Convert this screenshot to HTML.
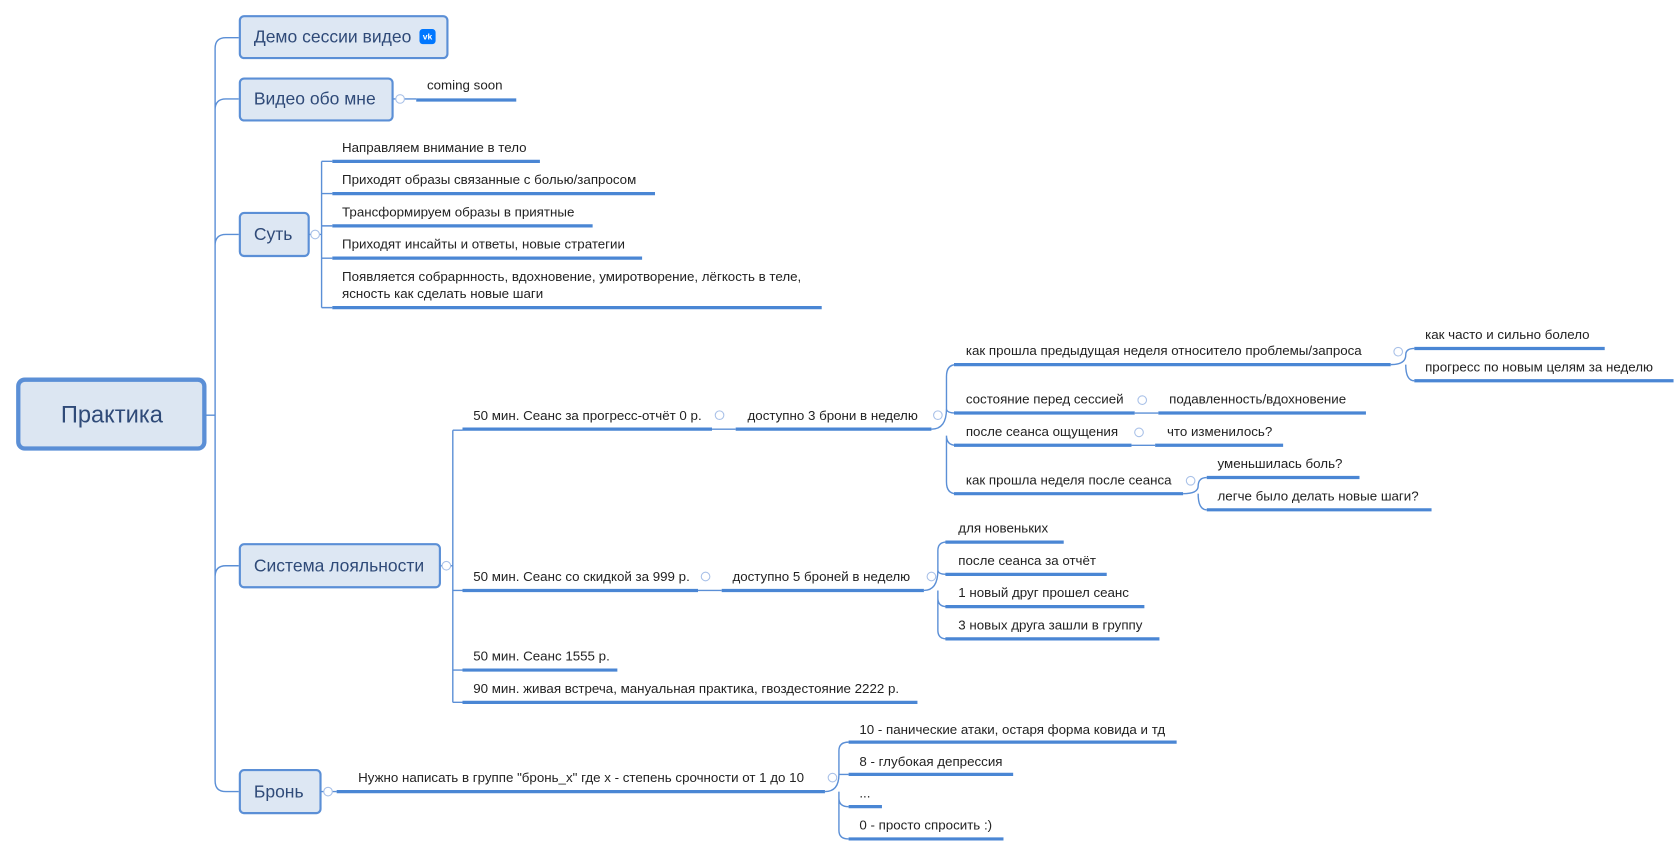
<!DOCTYPE html>
<html><head><meta charset="utf-8"><style>
html,body{margin:0;padding:0;background:#fff;width:1680px;height:854px;overflow:hidden}
svg text{font-family:"Liberation Sans","DejaVu Sans",sans-serif;fill:#222;font-size:12.4px;dominant-baseline:middle}
.t{font-size:16.3px;fill:#2f4a78}
.u{stroke:#4a86d4;stroke-width:3;fill:none}
.l{stroke:#5b8fd6;stroke-width:1.3;fill:none}
.b{fill:#dde7f3;stroke:#5b8fd6;stroke-width:2}
.c{fill:#fff;stroke:#a9c1e8;stroke-width:1}
</style></head><body>
<svg width="1680" height="854" viewBox="0 0 1562 794" xmlns="http://www.w3.org/2000/svg">
<path class="l" d="M190 386 H200 M210 35 Q200 35 200 45 V726 Q200 736 210 736 H222 M222 35 H210 M200 102 Q200 92 210 92 H222 M200 228 Q200 218 210 218 H222 M200 536 Q200 526 210 526 H222"/>
<rect x="17" y="353" width="173" height="64" rx="6" fill="#dce6f2" stroke="#5b8fd6" stroke-width="4"/>
<text x="104" y="387" class="t" style="font-size:22px" text-anchor="middle">Практика</text>

<rect class="b" x="223" y="15" width="193" height="39" rx="4"/>
<text class="t" x="236" y="35">Демо сессии видео</text>
<rect x="390" y="27" width="15" height="14" rx="3" fill="#0077ff"/>
<text x="397.5" y="34.5" text-anchor="middle" style="font-size:8px;fill:#fff;font-weight:bold">vk</text>

<rect class="b" x="223" y="73" width="142" height="39" rx="4"/>
<text class="t" x="236" y="93">Видео обо мне</text>
<path class="l" d="M365 92 H387"/><circle class="c" cx="372" cy="92" r="4"/>
<text x="397" y="80">coming soon</text><path class="u" d="M387 93 H480"/>

<rect class="b" x="223" y="198" width="64" height="40" rx="4"/>
<text class="t" x="236" y="219">Суть</text>
<path class="l" d="M287 218 H299 M299 150 V286 M299 150 H309 M299 180 H309 M299 210 H309 M299 240 H309 M299 286 H309"/>
<circle class="c" cx="293" cy="218" r="4"/>
<text x="318" y="138">Направляем внимание в тело</text><path class="u" d="M309 150 H502"/>
<text x="318" y="168">Приходят образы связанные с болью/запросом</text><path class="u" d="M309 180 H609"/>
<text x="318" y="198">Трансформируем образы в приятные</text><path class="u" d="M309 210 H551"/>
<text x="318" y="228">Приходят инсайты и ответы, новые стратегии</text><path class="u" d="M309 240 H597"/>
<text x="318" y="258">Появляется собрарнность, вдохновение, умиротворение, лёгкость в теле,</text>
<text x="318" y="274">ясность как сделать новые шаги</text><path class="u" d="M309 286 H764"/>

<rect class="b" x="223" y="506" width="186" height="40" rx="4"/>
<text class="t" x="236" y="527">Система лояльности</text>
<path class="l" d="M409 526 H421 M421 400 V653 M421 400 H430 M421 549 H430 M421 623 H430 M421 653 H430"/>
<circle class="c" cx="415" cy="526" r="4"/>
<text x="440" y="387">50 мин. Сеанс за прогресс-отчёт 0 р.</text><path class="u" d="M430 399 H662"/>
<path class="l" d="M662 399 H684"/><circle class="c" cx="669" cy="386" r="4"/>
<text x="695" y="387">доступно 3 брони в неделю</text><path class="u" d="M684 399 H866"/>
<circle class="c" cx="872" cy="386" r="4"/>
<path class="l" d="M866 399 Q880 399 880 380 V350 Q880 339 889 339 M880 380 Q880 384 889 384 M880 405 Q880 414 889 414 M880 405 V448 Q880 459 889 459"/>
<text x="898" y="327">как прошла предыдущая неделя относитело проблемы/запроса</text><path class="u" d="M887 339 H1293"/>
<circle class="c" cx="1300" cy="327" r="4"/>
<path class="l" d="M1293 339 Q1307 339 1307 330 Q1307 324 1315 324 M1307 339 Q1307 354 1315 354"/>
<text x="1325" y="312">как часто и сильно болело</text><path class="u" d="M1315 324 H1492"/>
<text x="1325" y="342">прогресс по новым целям за неделю</text><path class="u" d="M1315 354 H1556"/>
<text x="898" y="372">состояние перед сессией</text><path class="u" d="M887 384 H1055"/>
<circle class="c" cx="1062" cy="372" r="4"/><path class="l" d="M1055 384 H1077"/>
<text x="1087" y="372">подавленность/вдохновение</text><path class="u" d="M1077 384 H1270"/>
<text x="898" y="402">после сеанса ощущения</text><path class="u" d="M887 414 H1052"/>
<circle class="c" cx="1059" cy="402" r="4"/><path class="l" d="M1052 414 H1074"/>
<text x="1085" y="402">что изменилось?</text><path class="u" d="M1074 414 H1193"/>
<text x="898" y="447">как прошла неделя после сеанса</text><path class="u" d="M887 459 H1100"/>
<circle class="c" cx="1107" cy="447" r="4"/>
<path class="l" d="M1100 459 Q1114 459 1114 452 Q1114 444 1122 444 M1114 459 Q1114 474 1122 474"/>
<text x="1132" y="432">уменьшилась боль?</text><path class="u" d="M1122 444 H1264"/>
<text x="1132" y="462">легче было делать новые шаги?</text><path class="u" d="M1122 474 H1331"/>

<text x="440" y="537">50 мин. Сеанс со скидкой за 999 р.</text><path class="u" d="M430 549 H649"/>
<circle class="c" cx="656" cy="536" r="4"/><path class="l" d="M649 549 H671"/>
<text x="681" y="537">доступно 5 броней в неделю</text><path class="u" d="M671 549 H859"/>
<circle class="c" cx="866" cy="536" r="4"/>
<path class="l" d="M859 549 Q872 549 872 530 V512 Q872 504 880 504 M872 530 Q872 534 880 534 M872 549 V586 Q872 594 880 594 M872 556 Q872 564 880 564"/>
<text x="891" y="492">для новеньких</text><path class="u" d="M879 504 H989"/>
<text x="891" y="522">после сеанса за отчёт</text><path class="u" d="M879 534 H1029"/>
<text x="891" y="552">1 новый друг прошел сеанс</text><path class="u" d="M879 564 H1064"/>
<text x="891" y="582">3 новых друга зашли в группу</text><path class="u" d="M879 594 H1078"/>
<text x="440" y="611">50 мин. Сеанс 1555 р.</text><path class="u" d="M430 623 H574"/>
<text x="440" y="641">90 мин. живая встреча, мануальная практика, гвоздестояние  2222 р.</text><path class="u" d="M430 653 H853"/>

<rect class="b" x="223" y="716" width="75" height="40" rx="4"/>
<text class="t" x="236" y="737">Бронь</text>
<path class="l" d="M298 736 H313"/><circle class="c" cx="305" cy="736" r="4"/>
<text x="333" y="724">Нужно написать в группе "бронь_х" где х - степень срочности от 1 до 10</text><path class="u" d="M313 736 H767"/>
<circle class="c" cx="774" cy="723" r="4"/>
<path class="l" d="M767 736 Q780 736 780 720 V698 Q780 690 789 690 M780 720 Q780 720 789 720 M780 736 V772 Q780 780 789 780 M780 742 Q780 750 789 750"/>
<text x="799" y="679">10 - панические атаки, остаря форма ковида и тд</text><path class="u" d="M789 690 H1094"/>
<text x="799" y="709">8 - глубокая депрессия</text><path class="u" d="M789 720 H942"/>
<text x="799" y="738">...</text><path class="u" d="M789 750 H820"/>
<text x="799" y="768">0 - просто спросить :)</text><path class="u" d="M789 780 H933"/>
</svg>
</body></html>
